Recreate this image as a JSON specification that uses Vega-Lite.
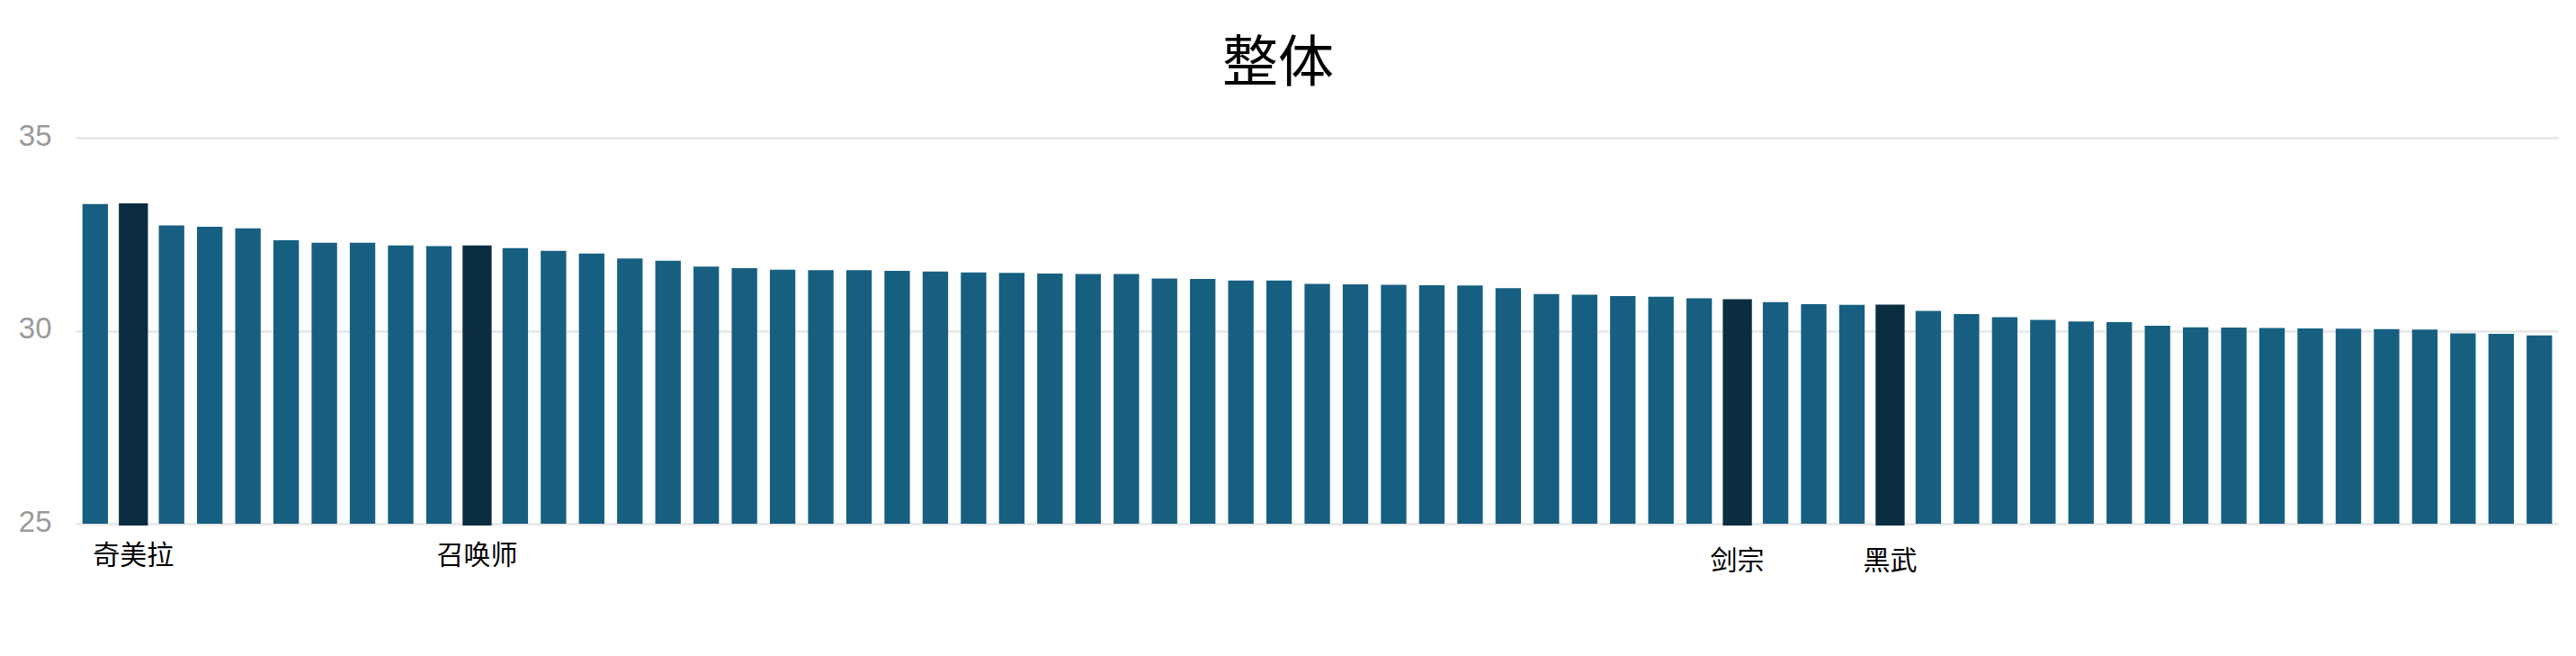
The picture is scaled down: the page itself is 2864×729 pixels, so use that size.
{
  "$schema": "https://vega.github.io/schema/vega-lite/v6.json",
  "autosize": "none",
  "width": 2778,
  "height": 429,
  "padding": {"left": 67, "top": 153, "right": 19, "bottom": 147},
  "background": "#ffffff",
  "title": {
    "text": "整体",
    "font": "Noto Sans CJK SC",
    "fontSize": 62,
    "fontWeight": "normal",
    "color": "#000000",
    "anchor": "middle",
    "frame": "group",
    "offset": 31,
    "dx": -35
  },
  "data": {
    "values": [
      {"name": "#01", "score": 33.28},
      {"name": "奇美拉", "score": 33.25},
      {"name": "#03", "score": 32.73},
      {"name": "#04", "score": 32.69},
      {"name": "#05", "score": 32.65},
      {"name": "#06", "score": 32.34},
      {"name": "#07", "score": 32.28},
      {"name": "#08", "score": 32.28},
      {"name": "#09", "score": 32.21},
      {"name": "#10", "score": 32.19},
      {"name": "召唤师", "score": 32.16},
      {"name": "#12", "score": 32.14},
      {"name": "#13", "score": 32.07},
      {"name": "#14", "score": 32.00},
      {"name": "#15", "score": 31.87},
      {"name": "#16", "score": 31.81},
      {"name": "#17", "score": 31.66},
      {"name": "#18", "score": 31.62},
      {"name": "#19", "score": 31.58},
      {"name": "#20", "score": 31.57},
      {"name": "#21", "score": 31.57},
      {"name": "#22", "score": 31.55},
      {"name": "#23", "score": 31.53},
      {"name": "#24", "score": 31.51},
      {"name": "#25", "score": 31.50},
      {"name": "#26", "score": 31.48},
      {"name": "#27", "score": 31.47},
      {"name": "#28", "score": 31.47},
      {"name": "#29", "score": 31.35},
      {"name": "#30", "score": 31.34},
      {"name": "#31", "score": 31.30},
      {"name": "#32", "score": 31.30},
      {"name": "#33", "score": 31.21},
      {"name": "#34", "score": 31.20},
      {"name": "#35", "score": 31.19},
      {"name": "#36", "score": 31.18},
      {"name": "#37", "score": 31.17},
      {"name": "#38", "score": 31.10},
      {"name": "#39", "score": 30.95},
      {"name": "#40", "score": 30.93},
      {"name": "#41", "score": 30.90},
      {"name": "#42", "score": 30.88},
      {"name": "#43", "score": 30.84},
      {"name": "剑宗", "score": 30.77},
      {"name": "#45", "score": 30.74},
      {"name": "#46", "score": 30.69},
      {"name": "#47", "score": 30.67},
      {"name": "黑武", "score": 30.63},
      {"name": "#49", "score": 30.51},
      {"name": "#50", "score": 30.43},
      {"name": "#51", "score": 30.35},
      {"name": "#52", "score": 30.28},
      {"name": "#53", "score": 30.24},
      {"name": "#54", "score": 30.22},
      {"name": "#55", "score": 30.13},
      {"name": "#56", "score": 30.09},
      {"name": "#57", "score": 30.08},
      {"name": "#58", "score": 30.07},
      {"name": "#59", "score": 30.06},
      {"name": "#60", "score": 30.05},
      {"name": "#61", "score": 30.04},
      {"name": "#62", "score": 30.03},
      {"name": "#63", "score": 29.93},
      {"name": "#64", "score": 29.92},
      {"name": "#65", "score": 29.88}
    ]
  },
  "mark": {"type": "bar"},
  "encoding": {
    "x": {
      "field": "name",
      "type": "ordinal",
      "sort": null,
      "scale": {"range": [17.6, 2777.5], "paddingInner": 0.333, "paddingOuter": 0.1667},
      "axis": {
        "title": null,
        "domain": false,
        "ticks": false,
        "labelAngle": 0,
        "labelFont": "Noto Sans CJK SC",
        "labelFontSize": 30,
        "labelColor": "#000000",
        "labelPadding": {
          "condition": {"test": "datum.value == '剑宗' || datum.value == '黑武'", "value": 26},
          "value": 20
        },
        "labelOverlap": false,
        "labelExpr": "slice(datum.value, 0, 1) == '#' ? '' : datum.value"
      }
    },
    "y": {
      "field": "score",
      "type": "quantitative",
      "scale": {"domain": [25, 35], "zero": false, "nice": false},
      "axis": {
        "title": null,
        "values": [25, 30, 35],
        "domain": false,
        "ticks": false,
        "grid": true,
        "gridColor": "#e6e6e6",
        "gridWidth": 2.5,
        "labelFont": "Liberation Sans",
        "labelFontSize": 33,
        "labelColor": "#9a9a9a",
        "labelPadding": 10,
        "labelOffset": -2
      }
    },
    "y2": {"datum": 25},
    "color": {
      "condition": {"test": "slice(datum.name, 0, 1) != '#'", "value": "#0a2d40"},
      "value": "#175f80"
    },
    "stroke": {
      "condition": {"test": "slice(datum.name, 0, 1) != '#'", "value": "#0a2d40"},
      "value": "#175f80"
    },
    "strokeWidth": {
      "condition": {"test": "slice(datum.name, 0, 1) != '#'", "value": 4},
      "value": 0
    },
    "tooltip": [
      {"field": "name", "type": "nominal"},
      {"field": "score", "type": "quantitative"}
    ]
  },
  "config": {"view": {"stroke": null}}
}
